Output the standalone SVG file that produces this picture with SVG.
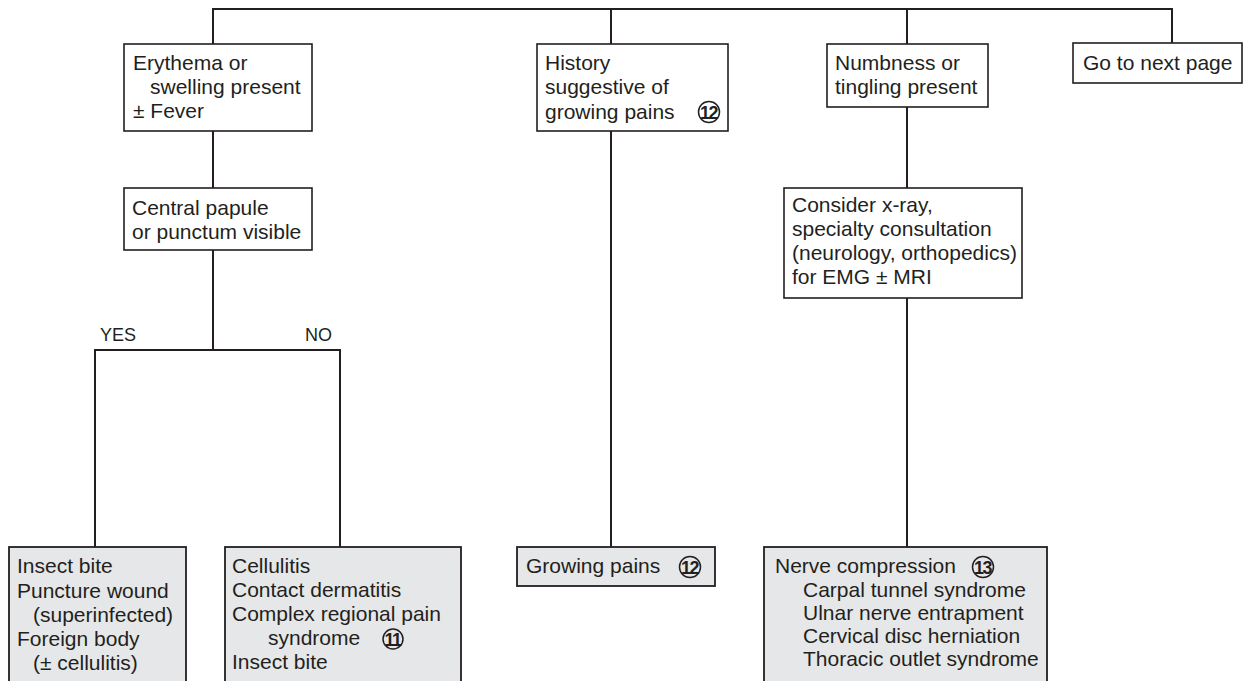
<svg xmlns="http://www.w3.org/2000/svg" width="1246" height="681" viewBox="0 0 1246 681">
<style>
.bx{fill:#ffffff;stroke:#231f20;stroke-width:1.6}
.gb{fill:#e6e7e8;stroke:#231f20;stroke-width:1.8}
.ln{fill:none;stroke:#231f20;stroke-width:2}
text{font-family:"Liberation Sans",Arial,Helvetica,sans-serif;font-size:21px;fill:#231f20}
.yn{font-size:18px}
.cn{fill:none;stroke:#231f20;stroke-width:1.5}
.num{font-size:18px;font-weight:bold;text-anchor:middle;letter-spacing:-1.5px}
</style>
<rect width="1246" height="681" fill="#ffffff"/>
<g id="connectors">
<path class="ln" d="M213 44V9H1172V43"/>
<path class="ln" d="M611 9V44"/>
<path class="ln" d="M907 9V44"/>
<path class="ln" d="M213 131V188"/>
<path class="ln" d="M213 250V350"/>
<path class="ln" d="M95 547V350H340V547"/>
<path class="ln" d="M611 131V547"/>
<path class="ln" d="M907 107V188"/>
<path class="ln" d="M907 298V547"/>
<text class="yn" x="100" y="341">YES</text>
<text class="yn" x="332" y="341" text-anchor="end">NO</text>
</g>
<g id="erythema">
<rect class="bx" x="124" y="44" width="188" height="87"/>
<text x="133" y="70">Erythema or</text>
<text x="150" y="94">swelling present</text>
<text x="133" y="118">± Fever</text>
</g>
<g id="central">
<rect class="bx" x="124" y="188" width="188" height="62"/>
<text x="132" y="215">Central papule</text>
<text x="132" y="239">or punctum visible</text>
</g>
<g id="history">
<rect class="bx" x="537" y="44" width="191" height="87"/>
<text x="545" y="70">History</text>
<text x="545" y="94">suggestive of</text>
<text x="545" y="119">growing pains</text>
<circle class="cn" cx="709" cy="112" r="10.5"/>
<text class="num" x="708.5" y="118.5">12</text>
</g>
<g id="numbness">
<rect class="bx" x="827" y="44" width="161" height="63"/>
<text x="835" y="70">Numbness or</text>
<text x="835" y="94">tingling present</text>
</g>
<g id="nextpage">
<rect class="bx" x="1073" y="43" width="169" height="40"/>
<text x="1083" y="70">Go to next page</text>
</g>
<g id="consider">
<rect class="bx" x="784" y="188" width="238" height="110"/>
<text x="792" y="212">Consider x-ray,</text>
<text x="792" y="236">specialty consultation</text>
<text x="792" y="260">(neurology, orthopedics)</text>
<text x="792" y="284">for EMG ± MRI</text>
</g>
<g id="insect">
<rect class="gb" x="9" y="547" width="177" height="150"/>
<text x="17" y="573">Insect bite</text>
<text x="17" y="598">Puncture wound</text>
<text x="33" y="622">(superinfected)</text>
<text x="17" y="646">Foreign body</text>
<text x="33" y="670">(± cellulitis)</text>
</g>
<g id="cellulitis">
<rect class="gb" x="225" y="547" width="236" height="150"/>
<text x="232" y="573">Cellulitis</text>
<text x="232" y="597">Contact dermatitis</text>
<text x="232" y="621">Complex regional pain</text>
<text x="268" y="645">syndrome</text>
<circle class="cn" cx="393" cy="639" r="10"/>
<text class="num" x="392.5" y="645.5">11</text>
<text x="232" y="669">Insect bite</text>
</g>
<g id="growing">
<rect class="gb" x="517" y="547" width="198" height="39"/>
<text x="526" y="573">Growing pains</text>
<circle class="cn" cx="690" cy="567" r="10.5"/>
<text class="num" x="689.5" y="573.5">12</text>
</g>
<g id="nerve">
<rect class="gb" x="764" y="547" width="283" height="150"/>
<text x="775" y="573">Nerve compression</text>
<circle class="cn" cx="983" cy="567" r="10.5"/>
<text class="num" x="982.5" y="573.5">13</text>
<text x="803" y="597">Carpal tunnel syndrome</text>
<text x="803" y="620">Ulnar nerve entrapment</text>
<text x="803" y="643">Cervical disc herniation</text>
<text x="803" y="666">Thoracic outlet syndrome</text>
</g>
</svg>
